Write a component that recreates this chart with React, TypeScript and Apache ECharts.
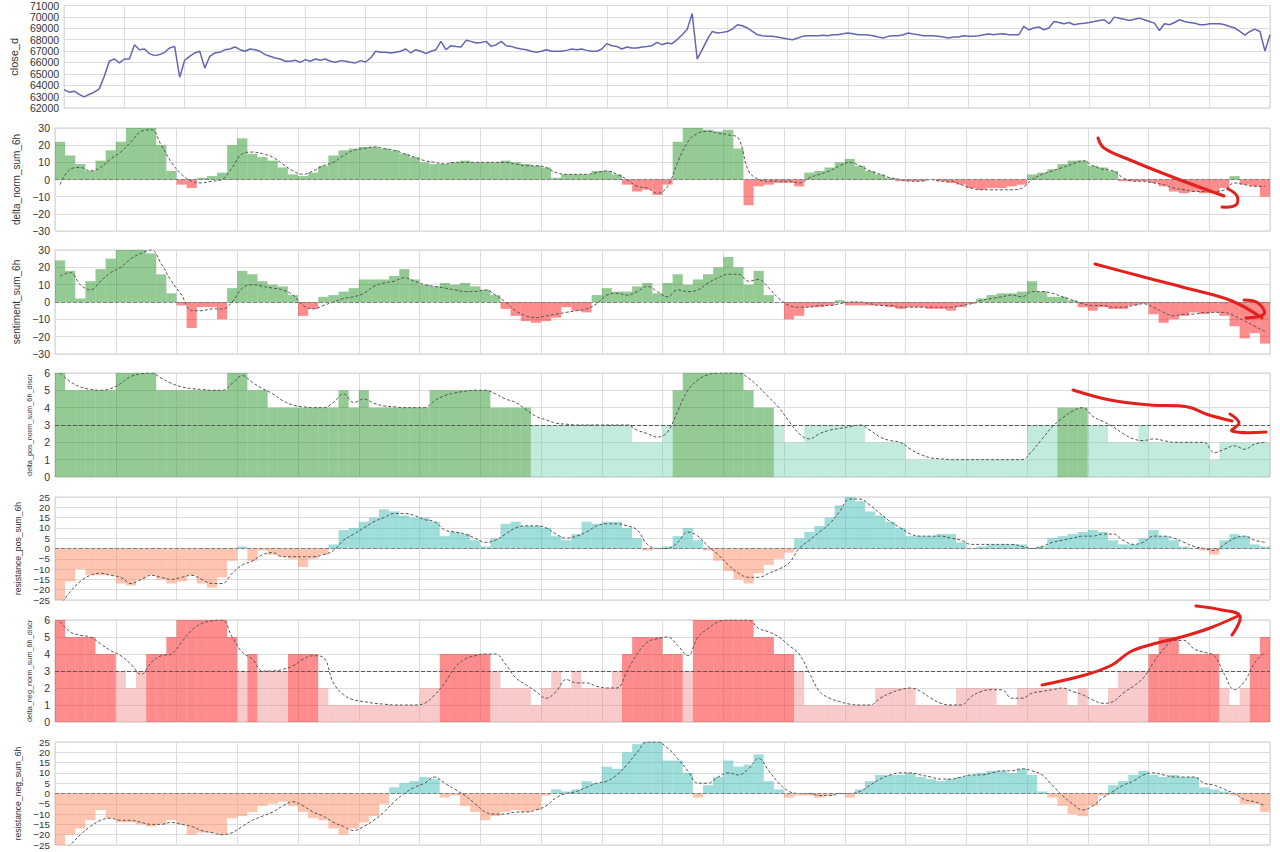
import React, { useEffect, useRef } from "react";
import * as echarts from "echarts";

// ---------- data ----------
// close_d, sampled every half bar step (241 points)
const price = [
  63620, 63390, 63480, 63190, 62980, 63190, 63390, 63680, 64790, 66100,
  66300, 65960, 66300, 66300, 67560, 67120, 67180, 66770, 66600, 66690,
  66890, 67270, 67410, 64700, 66190, 66540, 66830, 66980, 65500, 66540,
  66830, 66890, 67120, 67180, 67360, 67120, 66980, 67180, 67120, 66980,
  66690, 66540, 66390, 66300, 66100, 66100, 66190, 66010, 66250, 66100,
  66300, 66190, 66300, 66100, 66010, 66160, 66100, 66010, 65960, 66160,
  66040,
  66390, 66980, 66890, 66890, 66830, 66890, 66980, 67180, 66830, 67120,
  66980, 66770, 66980, 67120, 67850, 67120, 67470, 67410, 67360, 67940,
  67850, 67700, 67760, 67850, 67410, 67560, 67850, 67470, 67410, 67270,
  67180, 67120, 66980, 66890, 66980, 67120, 66980, 66980, 66980, 67060,
  67180, 67120, 67180, 67060, 66980, 66980, 67180, 67650, 67470, 67410,
  67180, 67360, 67270, 67270, 67360, 67410, 67470, 67760, 67560, 67700,
  67650, 68000, 68430, 68900, 70300, 66300, 67120, 68000, 68720, 68580,
  68640, 68720, 68930, 69310, 69220, 69020, 68720, 68430, 68350, 68290,
  68290, 68230, 68140, 68060, 68000, 68140, 68290, 68350, 68350, 68350,
  68380, 68350, 68430, 68430, 68520, 68580, 68520, 68430, 68430, 68410,
  68350, 68230, 68140, 68290, 68350, 68350, 68430, 68580, 68490, 68430,
  68350, 68350, 68350, 68290, 68230, 68140, 68230, 68230, 68350, 68290,
  68290, 68350, 68430, 68490, 68430, 68490, 68520, 68430, 68430, 68430,
  69160, 68870, 69020, 69110, 68870, 69020, 69600, 69510, 69400, 69510,
  69310, 69400, 69450, 69510, 69600, 69690, 69750, 69400, 69980, 69890,
  69800, 69690, 69800, 69890, 69750, 69600, 69450, 68800, 69400, 69310,
  69510, 69750, 69600, 69510, 69450, 69310, 69310, 69400, 69400, 69400,
  69310, 69160, 69020, 68720, 68400, 68720, 68930, 68720, 67000, 68430,
];

const deltaNorm = [
  22, 14, 9, 5, 11, 17, 22, 30, 30, 30,
  20, 5, -3, -5, 1, 2, 4, 20, 24, 15,
  13, 11, 7, 3, 2, 4, 8, 14, 17, 18,
  19, 19, 18, 17, 15, 13, 10, 9, 9, 10,
  11, 10, 10, 10, 11, 10, 9, 8, 7, 1,
  3, 3, 3, 5, 5, 3, -3, -7, -6, -9,
  -3, 22, 30, 30, 29, 28, 29, 18, -15, -4,
  -3, -2, -2, -4, 4, 5, 7, 10, 12, 8,
  5, 3, 1, -1, -1, -1, 0, -1, -2, -3,
  -5, -6, -5, -5, -4, -3, 3, 4, 6, 9,
  11, 11, 8, 7, 5, -1, -1, -1, -2, -4,
  -7, -8, -7, -8, -8, -5, 2, -3, -4, -10,
];
const deltaNormMa = [
  -3, 6, 7, 5, 7, 12, 16, 22, 28, 29,
  20, 10, 3, -1, -2, -1, 0, 7, 15, 16,
  15, 13, 9, 5, 3, 5, 8, 10, 14, 17,
  18, 19, 18, 17, 15, 13, 11, 10, 9, 10,
  10, 10, 10, 10, 10, 9, 8, 8, 7, 4,
  3, 3, 3, 4, 5, 3, 0, -4, -5, -8,
  -4, 10, 22, 27, 28, 27, 26, 24, 5, 0,
  -1, -1, -1, -2, 1, 3, 5, 8, 10, 8,
  5, 3, 1, 0, -1, -1, 0, -1, -1, -3,
  -5, -6, -6, -6, -6, -5, 0, 3, 5, 7,
  9, 11, 8, 6, 5, 1, -1, -1, -2, -3,
  -5, -6, -7, -7, -7, -6, -2, -3, -4, -4,
];

const sentiment = [
  24, 18, 2, 12, 19, 25, 30, 30, 30, 28,
  16, 5, -2, -15, -3, -3, -10, 8, 18, 16,
  12, 10, 9, 4, -8, -4, 3, 4, 6, 8,
  13, 13, 13, 15, 19, 13, 10, 9, 11, 10,
  11, 9, 7, 4, -4, -8, -11, -12, -11, -9,
  -3, -5, -6, 4, 8, 6, 6, 9, 11, 5,
  11, 16, 10, 13, 16, 20, 26, 20, 10, 18,
  4, 0, -10, -8, -3, -3, -2, 1, -2, -2,
  -2, -2, -3, -4, -3, -3, -4, -4, -5, -3,
  -1, 2, 4, 5, 5, 6, 12, 6, 3, 3,
  1, -3, -5, -3, -4, -4, -2, -1, -7, -12,
  -10, -8, -6, -7, -6, -8, -14, -21, -18, -24,
];
const sentimentMa = [
  15, 17, 10, 7, 12, 17, 20, 25, 28, 30,
  22, 12, 4, -5, -5, -4, -4, 0, 8, 10,
  9, 8, 7, 4, -2, -4, -2, 0, 2, 3,
  5, 9, 11, 12, 14, 12, 10, 9, 8, 7,
  6, 6, 7, 4, 0, -5, -8, -9, -8, -7,
  -6, -5, -4, -1, 4, 5, 4, 6, 9, 6,
  3, 7, 6, 7, 11, 14, 16, 16, 12, 13,
  8, 2, -2, -3, -3, -2, -2, -1, 0, 0,
  -1, -2, -2, -3, -3, -3, -3, -3, -3, -2,
  -1, 1, 2, 3, 4, 3, 6, 6, 5, 3,
  1, -1, -2, -2, -3, -3, -2, -1, -3, -6,
  -8, -7, -7, -6, -6, -6, -8, -11, -14, -17,
];

const deltaPosDiscr = [
  6, 5, 5, 5, 5, 5, 6, 6, 6, 6,
  5, 5, 5, 5, 5, 5, 5, 6, 6, 5,
  5, 4, 4, 4, 4, 4, 4, 4, 5, 4,
  5, 4, 4, 4, 4, 4, 4, 5, 5, 5,
  5, 5, 5, 4, 4, 4, 4, 3, 3, 3,
  3, 3, 3, 3, 3, 3, 3, 2, 2, 2,
  3, 5, 6, 6, 6, 6, 6, 6, 5, 4,
  4, 3, 2, 2, 3, 3, 3, 3, 3, 3,
  2, 2, 2, 2, 1, 1, 1, 1, 1, 1,
  1, 1, 1, 1, 1, 1, 3, 3, 3, 4,
  4, 4, 3, 3, 2, 2, 2, 3, 2, 2,
  2, 2, 2, 2, 1, 2, 2, 2, 2, 2,
];
const deltaPosDiscrMa = [
  6, 5.5, 5.2, 5.05, 5, 5.1, 5.4, 5.8, 5.95, 6,
  5.7, 5.4, 5.2, 5.1, 5.05, 5, 5, 5.4, 5.85, 5.45,
  5.1, 4.8, 4.4, 4.15, 4.05, 4, 4, 4.3, 4.8, 4.3,
  4.5, 4.25, 4.1, 4.05, 4, 4, 4, 4.4, 4.7, 4.85,
  4.95, 5, 5, 4.8, 4.5, 4.3, 3.9, 3.5, 3.3, 3.1,
  3.05, 3, 3, 3, 3, 3, 3, 2.7, 2.5, 2.3,
  2.6, 3.8, 5, 5.6, 5.9, 6, 6, 6, 5.7, 5.2,
  4.6, 4, 3.2, 2.5, 2.2, 2.5, 2.7, 2.8, 2.9, 3,
  2.7, 2.3, 2.1, 2, 1.6, 1.3, 1.1, 1.05, 1, 1,
  1, 1, 1, 1, 1, 1, 1.5, 2.2, 2.9, 3.4,
  3.8, 4, 3.5, 3.2, 2.9, 2.5, 2.2, 2.1, 2.2, 2.1,
  2, 2, 2, 2, 1.4, 1.6, 1.8, 1.6, 1.9, 2,
];

const resistancePos = [
  -25, -16, -10, -13, -13, -13, -17, -18, -15, -13,
  -15, -17, -16, -13, -17, -19, -14, -6, 1, -6,
  -1, -3, -4, -5, -9, -5, -3, 2, 9, 10,
  13, 15, 19, 18, 16, 15, 15, 13, 6, 8,
  7, 4, 1, 5, 12, 13, 11, 11, 10, 6,
  4, 7, 13, 12, 13, 13, 10, 5, -1, 0,
  1, 6, 10, 4, -1, -6, -11, -15, -17, -12,
  -8, -5, -2, 5, 8, 11, 15, 21, 25, 23,
  18, 16, 13, 10, 6, 6, 6, 7, 7, 3,
  0, 1, 2, 2, 2, 2, 0, 1, 5, 6,
  7, 8, 9, 8, 4, 2, 2, 5, 9, 6,
  4, 1, 0, -1, -3, 4, 7, 6, 2, 1,
];
const resistancePosMa = [
  -28, -21, -16, -13, -12, -13, -14, -17, -15, -13,
  -14, -15, -14, -13, -15, -17, -17, -12, -8, -6,
  -3, -2, -4, -4, -4, -4, -3, -1, 4, 7,
  10, 13, 15, 17, 17, 16, 14, 13, 9, 8,
  7, 5, 3, 4, 7, 10, 11, 11, 10, 7,
  5, 6, 8, 11, 12, 12, 11, 9, 2, 0,
  0, 3, 8, 6, 1, -3, -8, -12, -14, -14,
  -12, -10, -7, 0, 4, 8, 12, 18, 24, 24,
  21, 17, 13, 10, 7, 6, 6, 6, 5, 4,
  2, 2, 2, 2, 2, 1, 0, 1, 3, 4,
  5, 6, 6, 7, 7, 4, 2, 3, 6, 6,
  5, 3, 1, 0, -1, 2, 5, 6, 4, 3,
];

const deltaNegDiscr = [
  6, 5, 5, 5, 4, 4, 3, 2, 3, 4,
  4, 5, 6, 6, 6, 6, 6, 5, 3, 4,
  3, 3, 3, 4, 4, 4, 2, 1, 1, 1,
  1, 1, 1, 1, 1, 1, 2, 2, 4, 4,
  4, 4, 4, 3, 2, 2, 2, 1, 2, 3,
  2, 3, 2, 2, 2, 3, 4, 5, 5, 5,
  4, 4, 3, 6, 6, 6, 6, 6, 6, 5,
  5, 4, 4, 3, 1, 1, 1, 1, 1, 1,
  1, 2, 2, 2, 2, 1, 1, 1, 1, 2,
  2, 2, 2, 1, 1, 2, 2, 2, 2, 2,
  1, 2, 1, 1, 2, 3, 3, 3, 4, 5,
  5, 4, 4, 4, 4, 2, 1, 2, 4, 5,
];
const deltaNegDiscrMa = [
  5.9, 5.3, 5.1, 5, 4.6, 4.2, 3.9, 3.4, 2.8, 3.5,
  3.9, 4, 4.7, 5.4, 5.8, 5.95, 6, 5, 4.1, 3.7,
  3, 3, 3.1, 3.3, 3.7, 3.9, 3.8, 2.3, 1.6, 1.3,
  1.2, 1.1, 1.05, 1, 1, 1, 1.1, 1.6, 2.3, 3.2,
  3.7, 3.9, 4, 4, 3.4, 2.6, 2.2, 1.8, 1.4, 1.8,
  2.5, 2.3, 2.3, 2.1, 2, 2, 3, 4, 4.7, 4.9,
  5, 4.5, 3.9, 5, 5.5, 5.9, 6, 6, 6, 5.5,
  5.3, 5, 4.5, 4, 2.9, 1.8, 1.4, 1.2, 1.05, 1,
  1, 1.4, 1.7, 1.9, 2, 1.8, 1.4, 1.1, 1, 1,
  1.5, 1.8, 1.9, 1.9, 1.4, 1.4, 1.7, 1.8, 1.9, 2,
  1.8, 1.6, 1.3, 1.1, 1.2, 1.7, 2.1, 2.6, 3.5, 4.3,
  4.8, 4.8, 4.3, 4.1, 3.9, 2.8, 1.9, 2.4, 3.5, 4.1,
];

const resistanceNeg = [
  -25, -20, -17, -13, -8, -12, -14, -14, -15, -16,
  -15, -13, -15, -20, -19, -19, -20, -12, -11, -9,
  -6, -5, -4, -6, -9, -12, -13, -17, -20, -17,
  -14, -11, -5, 3, 5, 6, 8, 7, -2, -1,
  -6, -9, -13, -11, -9, -8, -9, -8, -1, 2,
  1, 2, 6, 5, 13, 12, 20, 24, 25, 25,
  16, 16, 10, -2, 4, 8, 16, 13, 14, 19,
  6, 2, -2, -1, -1, -2, -1, 0, -2, 2,
  6, 9, 9, 9, 10, 8, 7, 6, 7, 8,
  9, 10, 11, 11, 10, 12, 9, 1, -2, -6,
  -10, -11, -6, -1, 4, 6, 9, 11, 9, 8,
  9, 8, 8, 3, 2, 1, -1, -5, -5, -9,
];
const resistanceNegMa = [
  -29, -25, -20, -16, -13, -12, -13, -13, -14, -15,
  -15, -14, -15, -16, -18, -19, -20, -19, -16, -13,
  -11, -9, -6, -4, -6, -9, -11, -14, -16, -18,
  -16, -13, -9, -4, 0, 3, 5, 8, 5, 2,
  -1, -5, -9, -10, -10, -9, -9, -8, -6, -2,
  0, 1, 3, 5, 6, 9, 14, 20, 25, 25,
  22, 17, 11, 5, 5, 8, 10, 9, 12, 17,
  11, 5, 1, 0, 0, -1, -1, 0, 0, 1,
  4, 7, 9, 10, 10, 9, 8, 7, 7, 8,
  9, 9, 10, 11, 11, 12, 11, 9, 4, -1,
  -5, -8, -6, -2, 1, 4, 6, 9, 10, 9,
  8, 8, 8, 5, 4, 2, 0, -3, -4, -6,
];

const panelNames = [
  "close_d",
  "delta_norm_sum_6h",
  "sentiment_sum_6h",
  "delta_pos_norm_sum_6h_discr",
  "resistance_pos_sum_6h",
  "delta_neg_norm_sum_6h_discr",
  "resistance_neg_sum_6h",
];

// ---------- layout / style ----------
const GRID_TOPS = [5, 128, 250, 373, 497, 620, 742];
const GRID_HEIGHTS = [103, 103, 104, 104, 103, 102, 103];
const AXES = [
  { min: 62000, max: 71000, interval: 1000 },
  { min: -30, max: 30, interval: 10 },
  { min: -30, max: 30, interval: 10 },
  { min: 0, max: 6, interval: 1 },
  { min: -25, max: 25, interval: 5 },
  { min: 0, max: 6, interval: 1 },
  { min: -25, max: 25, interval: 5 },
];
const NAME_GAPS = [38, 29, 29, 19, 28, 19, 28];
const NAME_SIZES = [11, 10, 10, 7.3, 8.6, 7.3, 8.6];
const LABEL_SIZES = [10.5, 10.5, 10.5, 10.5, 9.8, 10.5, 9.8];

const GREEN = "rgba(0,128,0,0.42)";
const RED = "rgba(255,0,0,0.45)";
const MINT = "rgba(102,205,170,0.4)";
const TEAL = "rgba(32,178,170,0.43)";
const SALMON = "rgba(255,127,80,0.45)";
const PINK = "rgba(240,128,128,0.42)";
const GRID_LINE = "#dddddd";

const RED_INK = "#e2201c";
const FONT = "Liberation Sans, Arial, sans-serif";

export default function App() {
  const ref = useRef<HTMLDivElement>(null);

  useEffect(() => {
    const chart = echarts.init(ref.current as HTMLDivElement, null, { renderer: "svg" });
    const N = deltaNorm.length;
    const categories = Array.from({ length: N }, (_, i) => String(i));

    const grid = GRID_TOPS.map((top, k) => ({
      left: 55,
      right: 10,
      top,
      height: GRID_HEIGHTS[k],
      show: true,
      borderColor: "#cfcfcf",
      borderWidth: 1,
      backgroundColor: "#ffffff",
    }));

    const xAxis: any[] = GRID_TOPS.map((_, k) =>
      k === 0
        ? {
            type: "value",
            gridIndex: 0,
            min: 0,
            max: N,
            interval: 6,
            axisLabel: { show: false },
            axisTick: { show: false },
            axisLine: { show: false },
            splitLine: { show: true, lineStyle: { color: GRID_LINE, width: 1 } },
          }
        : {
            type: "category",
            gridIndex: k,
            data: categories,
            boundaryGap: true,
            axisLabel: { show: false },
            axisTick: { show: false },
            axisLine: { show: false },
            splitLine: { show: true, interval: 5, lineStyle: { color: GRID_LINE, width: 1 } },
          }
    );

    const yAxis: any[] = AXES.map((a, k) => ({
      type: "value",
      gridIndex: k,
      min: a.min,
      max: a.max,
      interval: a.interval,
      name: panelNames[k],
      nameLocation: "middle",
      nameRotate: 90,
      nameGap: NAME_GAPS[k],
      nameTextStyle: { fontSize: NAME_SIZES[k], color: "#333", fontFamily: FONT },
      axisLabel: {
        fontSize: LABEL_SIZES[k],
        color: "#333",
        margin: 5,
        fontFamily: FONT,
        showMinLabel: true,
        showMaxLabel: true,
        hideOverlap: false,
        formatter: (v: number) => (v < 0 ? "\u2212" + String(-v) : String(v)),
      },
      axisTick: { show: false },
      axisLine: { show: false },
      splitLine: { show: true, lineStyle: { color: GRID_LINE, width: 1 } },
    }));

    const signColor = (pos: string, neg: string) => (p: any) => (p.value >= 0 ? pos : neg);
    const levelColor = (hi: string, lo: string) => (p: any) => (p.value > 3 ? hi : lo);

    const refLine = (y: number, color: string) => ({
      silent: true,
      symbol: ["none", "none"],
      label: { show: false },
      lineStyle: { color, type: [4, 2], width: 1 },
      data: [{ yAxis: y }],
    });

    const panels = [
      { data: deltaNorm, ma: deltaNormMa, color: signColor(GREEN, RED), ref: 0, refColor: "#808080" },
      { data: sentiment, ma: sentimentMa, color: signColor(GREEN, RED), ref: 0, refColor: "#808080" },
      { data: deltaPosDiscr, ma: deltaPosDiscrMa, color: levelColor(GREEN, MINT), ref: 3, refColor: "#5a5a5a" },
      { data: resistancePos, ma: resistancePosMa, color: signColor(TEAL, SALMON), ref: 0, refColor: "#808080" },
      { data: deltaNegDiscr, ma: deltaNegDiscrMa, color: levelColor(RED, PINK), ref: 3, refColor: "#5a5a5a" },
      { data: resistanceNeg, ma: resistanceNegMa, color: signColor(TEAL, SALMON), ref: 0, refColor: "#808080" },
    ];

    const series: any[] = [
      {
        type: "line",
        xAxisIndex: 0,
        yAxisIndex: 0,
        data: price.map((v, k) => [k / 2, v]),
        showSymbol: false,
        lineStyle: { color: "#6565b5", width: 1.5 },
        z: 3,
      },
    ];

    panels.forEach((p, j) => {
      const k = j + 1;
      series.push({
        type: "bar",
        xAxisIndex: k,
        yAxisIndex: k,
        data: p.data,
        barCategoryGap: "0%",
        itemStyle: { color: p.color },
        markLine: refLine(p.ref, p.refColor),
        z: 2,
      });
      series.push({
        type: "line",
        xAxisIndex: k,
        yAxisIndex: k,
        data: p.ma,
        smooth: 0.4,
        showSymbol: false,
        lineStyle: { color: "#555555", width: 1, type: [3, 2] },
        z: 4,
      });
    });

    const stroke = { stroke: RED_INK, lineWidth: 3, lineCap: "round", lineJoin: "round", fill: null };
    const arrow = (pts: number[][]) => ({
      type: "polyline",
      shape: { points: pts, smooth: 0.4 },
      style: stroke,
      z: 100,
    });

    const graphic = [
      arrow([[1098, 138], [1104, 148], [1130, 160], [1175, 178], [1224, 196]]),
      arrow([[1228, 189], [1237, 196], [1236, 205], [1222, 207]]),
      arrow([[1095, 264], [1140, 276], [1190, 289], [1232, 301], [1262, 318]]),
      arrow([[1244, 300], [1258, 303], [1264, 314], [1246, 318]]),
      arrow([[1073, 390], [1110, 400], [1150, 405], [1188, 407], [1206, 414], [1232, 421]]),
      arrow([[1230, 414], [1239, 423], [1232, 431], [1266, 432]]),
      arrow([[1042, 685], [1085, 675], [1112, 665], [1130, 652], [1150, 645], [1185, 636], [1210, 628], [1238, 616]]),
      arrow([[1196, 606], [1222, 610], [1240, 616], [1232, 635]]),
    ];

    chart.setOption({
      animation: false,
      backgroundColor: "#ffffff",
      grid,
      xAxis,
      yAxis,
      series,
      graphic,
    });

    return () => chart.dispose();
  }, []);

  return (
    <div
      ref={ref}
      style={{ position: "absolute", left: 0, top: 0, width: 1280, height: 852, background: "#fff" }}
    />
  );
}
